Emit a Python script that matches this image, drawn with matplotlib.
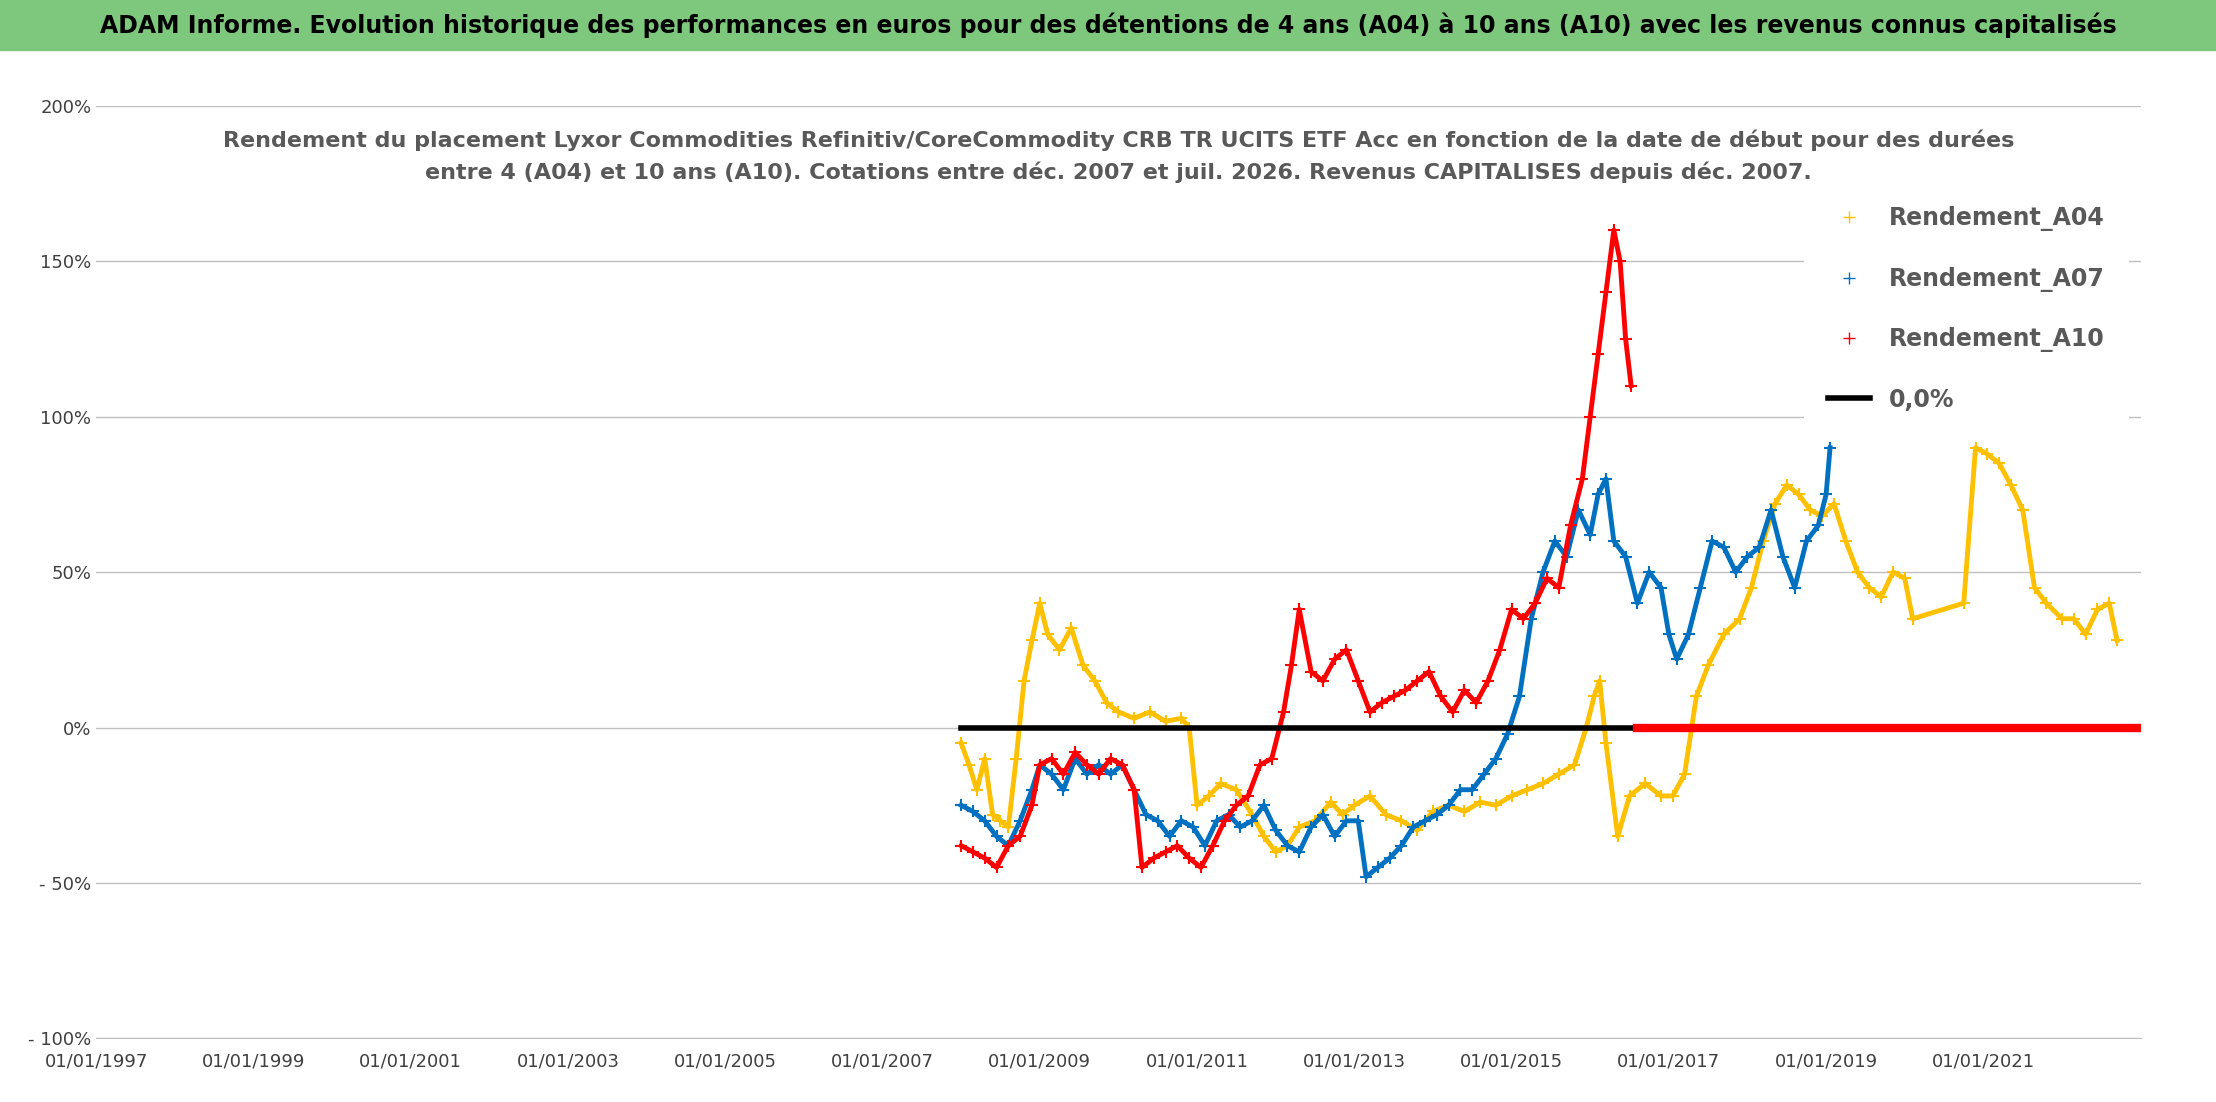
import matplotlib.pyplot as plt
from matplotlib.lines import Line2D

# fractional year, value (%)
a04_t = [2008.0,2008.1,2008.2,2008.3,2008.4,2008.5,2008.6,2008.7,2008.8,2008.9,2009.0,2009.1,2009.25,2009.4,2009.55,2009.7,2009.85,2010.0,2010.2,2010.4,2010.6,2010.8,2010.9,2011.0,2011.15,2011.3,2011.5,2011.7,2011.85,2012.0,2012.15,2012.3,2012.5,2012.7,2012.85,2013.0,2013.2,2013.4,2013.6,2013.8,2014.0,2014.2,2014.4,2014.6,2014.8,2015.0,2015.2,2015.4,2015.6,2015.8,2015.95,2016.05,2016.12,2016.2,2016.35,2016.5,2016.7,2016.9,2017.05,2017.2,2017.35,2017.5,2017.7,2017.9,2018.05,2018.2,2018.35,2018.5,2018.65,2018.8,2018.95,2019.1,2019.25,2019.4,2019.55,2019.7,2019.85,2020.0,2020.1,2020.75,2020.9,2021.05,2021.2,2021.35,2021.5,2021.65,2021.8,2022.0,2022.15,2022.3,2022.45,2022.6,2022.7]
a04_v = [-5,-12,-20,-10,-28,-30,-32,-10,15,28,40,30,25,32,20,15,8,5,3,5,2,3,0,-25,-22,-18,-20,-28,-35,-40,-38,-32,-30,-24,-28,-25,-22,-28,-30,-33,-27,-25,-27,-24,-25,-22,-20,-18,-15,-12,0,10,15,-5,-35,-22,-18,-22,-22,-15,10,20,30,35,45,60,72,78,75,70,68,72,60,50,45,42,50,48,35,40,90,88,85,78,70,45,40,35,35,30,38,40,28]
a07_t = [2008.0,2008.15,2008.3,2008.45,2008.6,2008.75,2008.9,2009.0,2009.15,2009.3,2009.45,2009.6,2009.75,2009.9,2010.05,2010.2,2010.35,2010.5,2010.65,2010.8,2010.95,2011.1,2011.25,2011.4,2011.55,2011.7,2011.85,2012.0,2012.15,2012.3,2012.45,2012.6,2012.75,2012.9,2013.05,2013.15,2013.3,2013.45,2013.6,2013.75,2013.9,2014.05,2014.2,2014.35,2014.5,2014.65,2014.8,2014.95,2015.1,2015.25,2015.4,2015.55,2015.7,2015.85,2016.0,2016.1,2016.2,2016.3,2016.45,2016.6,2016.75,2016.9,2017.0,2017.1,2017.25,2017.4,2017.55,2017.7,2017.85,2018.0,2018.15,2018.3,2018.45,2018.6,2018.75,2018.9,2019.0,2019.05]
a07_v = [-25,-27,-30,-35,-38,-30,-20,-12,-15,-20,-10,-15,-12,-15,-12,-20,-28,-30,-35,-30,-32,-38,-30,-28,-32,-30,-25,-33,-38,-40,-32,-28,-35,-30,-30,-48,-45,-42,-38,-32,-30,-28,-25,-20,-20,-15,-10,-2,10,35,50,60,55,70,62,75,80,60,55,40,50,45,30,22,30,45,60,58,50,55,58,70,55,45,60,65,75,90]
a10_t = [2008.0,2008.15,2008.3,2008.45,2008.6,2008.75,2008.9,2009.0,2009.15,2009.3,2009.45,2009.6,2009.75,2009.9,2010.05,2010.2,2010.3,2010.45,2010.6,2010.75,2010.9,2011.05,2011.2,2011.35,2011.5,2011.65,2011.8,2011.95,2012.1,2012.2,2012.3,2012.45,2012.6,2012.75,2012.9,2013.05,2013.2,2013.35,2013.5,2013.65,2013.8,2013.95,2014.1,2014.25,2014.4,2014.55,2014.7,2014.85,2015.0,2015.15,2015.3,2015.45,2015.6,2015.75,2015.9,2016.0,2016.1,2016.2,2016.3,2016.38,2016.45,2016.52]
a10_v = [-38,-40,-42,-45,-38,-35,-25,-12,-10,-15,-8,-12,-15,-10,-12,-20,-45,-42,-40,-38,-42,-45,-38,-30,-25,-22,-12,-10,5,20,38,18,15,22,25,15,5,8,10,12,15,18,10,5,12,8,15,25,38,35,40,48,45,65,80,100,120,140,160,150,125,110]
zero_black = ([2008.0, 2016.6], [0, 0])
zero_red = ([2016.6, 2023.0], [0, 0])
xticks = list(range(1997, 2022, 2))
yticks = [-100, -50, 0, 50, 100, 150, 200]
ylabels = ['- 100%', '- 50%', '0%', '50%', '100%', '150%', '200%']

fig = plt.figure(figsize=(22.16, 11.02), dpi=100)
fig.patches.append(plt.Rectangle((0, 0.955), 1, 0.045, transform=fig.transFigure,
                                 color='#7dc87d', zorder=0))
fig.text(0.5, 0.977, "ADAM Informe. Evolution historique des performances en euros pour des détentions de 4 ans (A04) à 10 ans (A10) avec les revenus connus capitalisés",
         ha='center', va='center', fontsize=17, fontweight='bold')
ax = fig.add_axes([0.0434, 0.0577, 0.9226, 0.8463])
ax.set_xlim(1997, 2023.0)
ax.set_ylim(-100, 200)
ax.set_yticks(yticks)
ax.set_yticklabels(ylabels, fontsize=13, color='#404040')
ax.set_xticks(xticks)
ax.set_xticklabels([f"01/01/{y}" for y in xticks], fontsize=13, color='#404040')
ax.grid(axis='y', color='#bfbfbf', lw=1)
for s in ['top', 'right', 'left']:
    ax.spines[s].set_visible(False)
ax.spines['bottom'].set_color('#bfbfbf')
ax.tick_params(length=0)
ax.tick_params(axis='x', pad=10)

kw = dict(lw=3.5, marker='+', ms=8, mew=1.5)
ax.plot(a04_t, a04_v, color='#ffc000', zorder=3, **kw)
ax.plot(a07_t, a07_v, color='#0070c0', zorder=4, **kw)
ax.plot(a10_t, a10_v, color='#ff0000', zorder=5, **kw)
ax.plot(*zero_black, color='black', lw=4, zorder=6)
ax.plot(*zero_red, color='#ff0000', lw=6, zorder=6)

ax.text(0.5, 0.975, "Rendement du placement Lyxor Commodities Refinitiv/CoreCommodity CRB TR UCITS ETF Acc en fonction de la date de début pour des durées\nentre 4 (A04) et 10 ans (A10). Cotations entre déc. 2007 et juil. 2026. Revenus CAPITALISES depuis déc. 2007.",
        transform=ax.transAxes, ha='center', va='top', fontsize=16, fontweight='bold',
        color='#595959', linespacing=1.6, bbox=dict(fc='white', ec='none'))
handles = [Line2D([], [], ls='none', marker='+', color='#ffc000', ms=8),
           Line2D([], [], ls='none', marker='+', color='#0070c0', ms=8),
           Line2D([], [], ls='none', marker='+', color='#ff0000', ms=8),
           Line2D([], [], color='black', lw=4)]
leg = ax.legend(handles, ['Rendement_A04', 'Rendement_A07', 'Rendement_A10', '0,0%'],
                loc='upper right', bbox_to_anchor=(1.0, 0.93), frameon=True,
                edgecolor='none', facecolor='white', framealpha=1, labelspacing=1.5,
                handlelength=1.8, borderpad=1, prop={'size': 17, 'weight': 'bold'})
for t in leg.get_texts():
    t.set_color('#595959')
fig.savefig('out.png', dpi=100)
